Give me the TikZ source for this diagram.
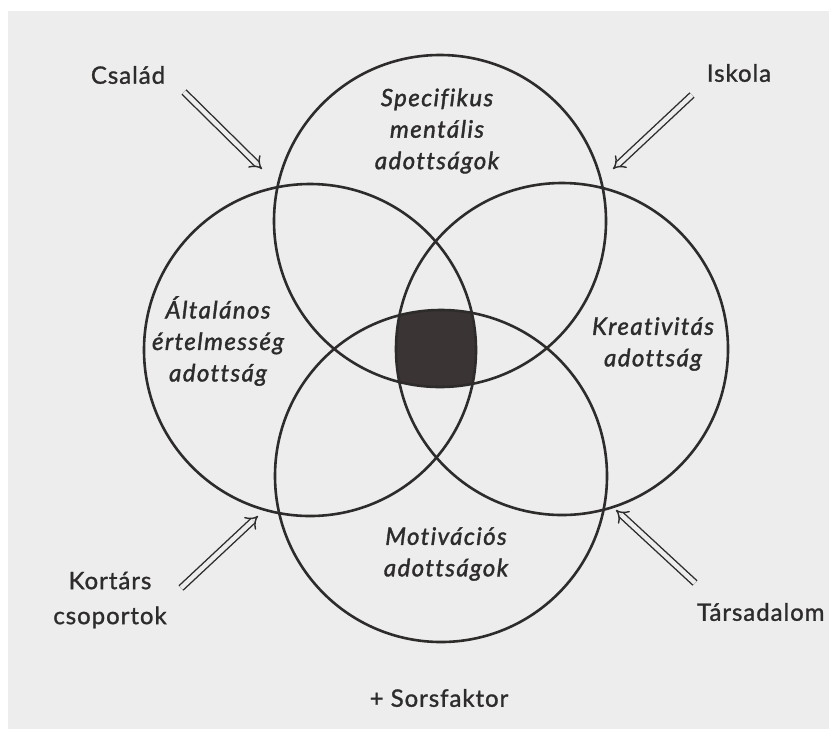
\documentclass[tikz,border=0pt]{standalone}
\usepackage{fontspec}
\setmainfont{Lato}
\newfontfamily\outerfont[LetterSpace=4,Ligatures=NoCommon,FakeBold=1.2]{Lato}
\newfontfamily\innerfont[LetterSpace=6,Ligatures=NoCommon,FakeBold=1.6]{Lato}
\usetikzlibrary{arrows.meta}
\definecolor{bg}{HTML}{EDEDED}
\definecolor{ink}{HTML}{2E2B2B}
\definecolor{core}{HTML}{3A3434}
\begin{document}
\begin{tikzpicture}[x=1pt,y=-1pt,
  ring/.style={circle,draw=ink,line width=2.6pt,minimum size=332pt,inner sep=0pt,outer sep=0pt},
  inlabel/.style={text=ink,align=center,font=\innerfont\itshape\fontsize{24}{31.5}\selectfont},
  outlabel/.style={text=ink,align=center,font=\outerfont\fontsize{24}{35}\selectfont},
  influx/.style={draw=ink,double=bg,double distance=4.5pt,line width=1.4pt,-{Implies}}]
\useasboundingbox (0,0) rectangle (829,729);
\fill[white] (0,0) rectangle (829,729);
\fill[bg] (8,11) rectangle (829,729);
% dark core: intersection of the four circles
\begin{scope}
  \clip (440,221) circle[radius=166pt];
  \clip (441,476) circle[radius=166pt];
  \clip (310,350) circle[radius=166pt];
  \clip (562,349) circle[radius=166pt];
  \fill[core] (300,200) rectangle (600,500);
\end{scope}
\node[ring] (ctop) at (440,221) {};
\node[ring] (cbot) at (441,476) {};
\node[ring] (cleft) at (310,350) {};
\node[ring] (cright) at (562,349) {};
% inner labels
\node[inlabel] (spec) at (437,131) {Specifikus\\mentális\\adottságok};
\node[inlabel] (alt) at (218,341) {Általános\\értelmesség\\adottság};
\node[inlabel] (krea) at (653,344) {Kreativitás\\adottság};
\node[inlabel] (moti) at (446,554) {Motivációs\\adottságok};
% outer labels
\node[outlabel] (csalad) at (128,75) {Család};
\node[outlabel] (iskola) at (739,73) {Iskola};
\node[outlabel,anchor=east] (tars) at (828,612) {Társadalom};
\node[outlabel] (kortars) at (110,600) {Kortárs\\csoportok};
\node[outlabel] (sors) at (439,698) {+ Sorsfaktor};
% arrow end points
\coordinate (a1s) at (184,92);
\coordinate (a1e) at (262,169);
\coordinate (a2s) at (692,95);
\coordinate (a2e) at (613,169);
\coordinate (a3s) at (181,588);
\coordinate (a3e) at (258,516);
\coordinate (a4s) at (695,583);
\coordinate (a4e) at (616,510);
\draw[influx] (a1s) -- (a1e);
\draw[influx] (a2s) -- (a2e);
\draw[influx] (a3s) -- (a3e);
\draw[influx] (a4s) -- (a4e);
\end{tikzpicture}
\end{document}
